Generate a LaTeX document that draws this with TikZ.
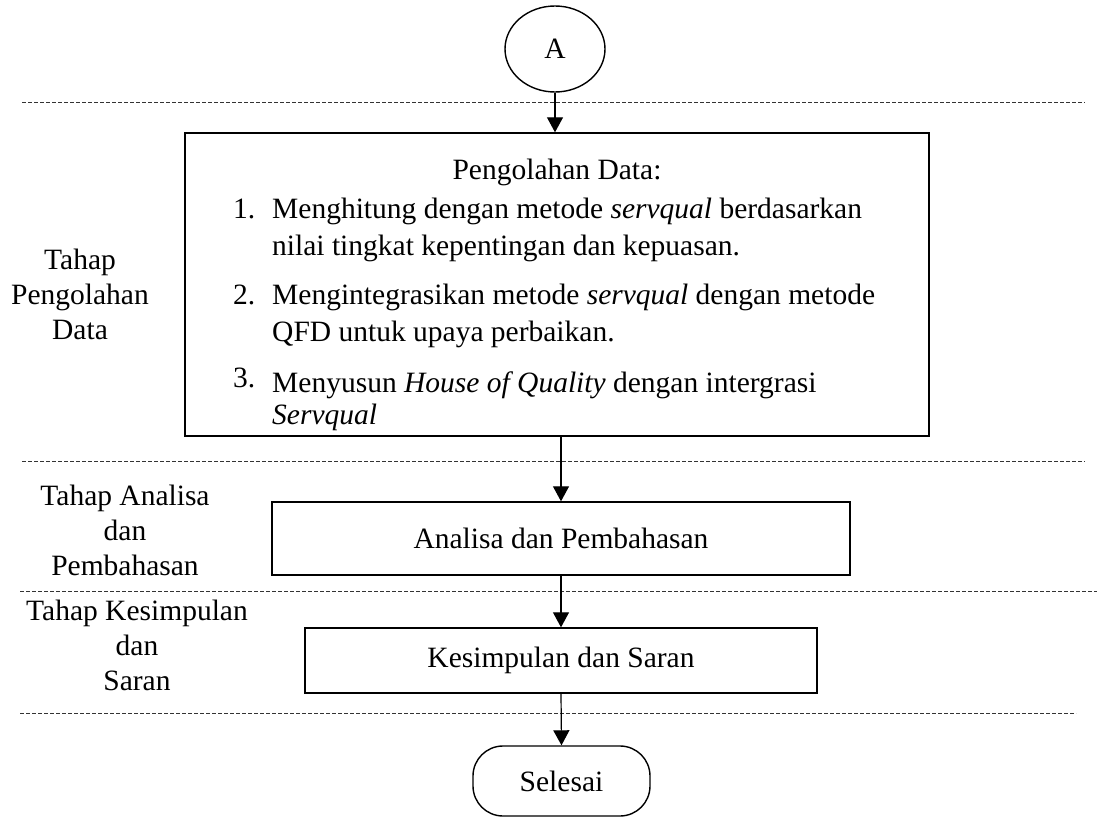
\documentclass[tikz,border=0pt]{standalone}
\usepackage{fontspec}
\setmainfont{Liberation Serif}
\usetikzlibrary{arrows.meta,shapes.geometric}
\begin{document}
\begin{tikzpicture}[x=1pt,y=-1pt,
  every node/.style={font=\fontsize{29.5}{35}\selectfont, inner sep=0pt},
  proc/.style={draw, line width=1.4pt, rectangle},
  conn/.style={line width=1.2pt, -{Triangle[length=15pt,width=16pt]}},
  phase/.style={dash pattern=on 4pt off 2pt, line width=1pt, draw=black!80},
  lbl/.style={align=center},
  ln/.style={anchor=base west}
]
\useasboundingbox (0,0) rectangle (1097,818);

% separators
\draw[phase] (22,103) -- (1085,103);
\draw[phase] (22,461) -- (1085,461);
\draw[phase] (20,591) -- (1097,591);
\draw[phase] (20,713) -- (1076,713);

% shapes
\node[draw, ellipse, line width=1.4pt, minimum width=100pt, minimum height=86pt] (A) at (555,49) {A};
\node[proc, minimum width=744pt, minimum height=303pt] (b1) at (557,284.5) {};
\node[proc, minimum width=578pt, minimum height=73pt] (b2) at (561,538.5) {Analisa dan Pembahasan};
\node[proc, minimum width=512pt, minimum height=65pt] (b3) at (561,660.5) {Kesimpulan dan Saran};
\node[draw, line width=1.4pt, rounded corners=30pt, minimum width=177pt, minimum height=70pt] (end) at (561.5,781) {Selesai};

% box 1 text
\node[anchor=base] (t0) at (557,180) {Pengolahan Data:};
\node[ln] (n1) at (233,219) {1.};
\node[ln] (i1a) at (272,219) {Menghitung dengan metode \textit{servqual} berdasarkan};
\node[ln] (i1b) at (272,256) {nilai tingkat kepentingan dan kepuasan.};
\node[ln] (n2) at (233,305) {2.};
\node[ln] (i2a) at (272,305) {Mengintegrasikan metode \textit{servqual} dengan metode};
\node[ln] (i2b) at (272,341) {QFD untuk upaya perbaikan.};
\node[ln] (n3) at (233,387) {3.};
\node[ln] (i3a) at (272,392) {Menyusun \textit{House of Quality} dengan intergrasi};
\node[ln] (i3b) at (272,424) {\textit{Servqual}};

% phase labels
\node[lbl] (L1) at (80,294) {Tahap\\Pengolahan\\Data};
\node[lbl] (L2) at (125,530) {Tahap Analisa\\dan\\Pembahasan};
\node[lbl] (L3) at (137,645) {Tahap Kesimpulan\\dan\\Saran};

% connectors
\draw[conn] (A.south) -- (A.south |- b1.north);
\draw[conn] (b2.north |- b1.south) -- (b2.north);
\draw[conn] (b2.south) -- (b3.north);
\draw[conn] (b3.south) -- (end.north);
\end{tikzpicture}
\end{document}
